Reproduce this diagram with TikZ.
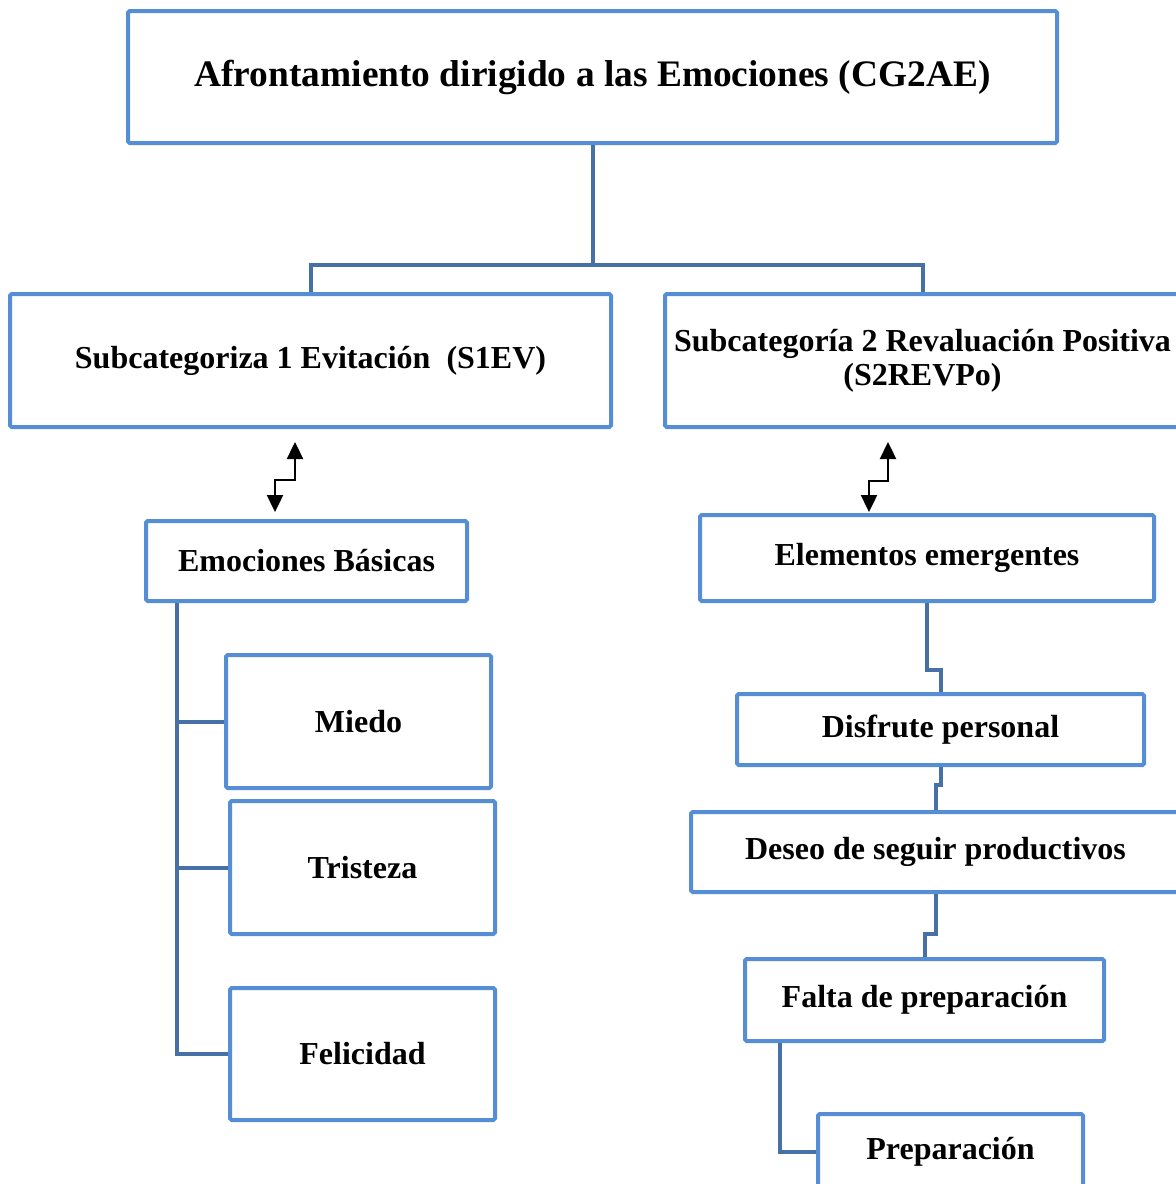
\documentclass[tikz,border=0pt]{standalone}
\usepackage{fontspec}
\setmainfont{Liberation Serif}
\usetikzlibrary{calc,arrows.meta}
\definecolor{boxblue}{RGB}{85,142,213}
\definecolor{linkblue}{RGB}{70,112,166}

\begin{document}
\begin{tikzpicture}[x=0.5pt,y=-0.5pt,font=\bfseries\fontsize{16}{17}\selectfont]

        % Setup the styles for the boxes and the links
        \tikzset{box style/.style={rectangle,
                                   draw=boxblue,
                                   line width=2pt,
                                   rounded corners=0.8pt,
                                   inner sep=0pt,
                                   align=center},
                 link style/.style={draw=linkblue,
                                    line width=2pt},
                 arrow style/.style={draw=black,
                                     line width=1.2pt,
                                     {Triangle[length=8.5pt,width=8pt]}-{Triangle[length=8.5pt,width=8pt]}}}

        \useasboundingbox (0,0) rectangle (1176,1184);

        % Draw the boxes
        \node[box style, minimum width=464.5pt, minimum height=66pt,
              font=\bfseries\fontsize{18.7}{20}\selectfont] at (592.5, 77) (tit) {Afrontamiento dirigido a las Emociones (CG2AE)};
        \node[box style, minimum width=300.5pt, minimum height=66.5pt] at (310.5, 360.5) (s1) {Subcategoriza 1 Evitación\ \ (S1EV)};
        \node[box style, minimum width=257.5pt, minimum height=66.5pt] at (922.5, 360.5) (s2) {Subcategoría 2 Revaluación Positiva\\(S2REVPo)};
        \node[box style, minimum width=160.5pt, minimum height=40pt]   at (306.5, 561)   (emo) {Emociones Básicas};
        \node[box style, minimum width=132.5pt, minimum height=66.5pt] at (358.5, 721.5) (mie) {Miedo};
        \node[box style, minimum width=132.5pt, minimum height=66.5pt] at (362.5, 867.5) (tri) {Tristeza};
        \node[box style, minimum width=132.5pt, minimum height=66pt]   at (362.5, 1054)  (fel) {Felicidad};
        \node[box style, minimum width=227pt,   minimum height=43pt]   at (927, 558)     (eme) {Elementos emergentes};
        \node[box style, minimum width=203.5pt, minimum height=35.5pt] at (940.5, 729.5) (dis) {Disfrute personal};
        \node[box style, minimum width=244.5pt, minimum height=40pt]   at (935.5, 852)   (des) {Deseo de seguir productivos};
        \node[box style, minimum width=179.5pt, minimum height=41pt]   at (924.5, 1000)  (fal) {Falta de preparación};
        \node[box style, minimum width=132.5pt, minimum height=38pt]   at (950.5, 1152)  (pre) {Preparación};

        % Connect the title with the subcategories
        \coordinate (jt) at (592.5, 265);
        \draw[link style] (tit.south) -- (tit.south |- jt);
        \draw[link style] (s1.north) |- (jt) -| (s2.north);

        % Double arrows below the subcategories
        \draw[arrow style] ($(s1.south)+(-15.5,13)$) -- ++(0,38) -| ($(emo.north)+(-31.5,-7)$);
        \draw[arrow style] ($(s2.south)+(-34.5,13)$) -- ++(0,39) -| ($(eme.north)+(-58,-1)$);

        % Left branch
        \coordinate (br) at ($(emo.south west)+(33,0)$);
        \draw[link style] (br) |- (fel.west);
        \draw[link style] (br |- mie.west) -- (mie.west);
        \draw[link style] (br |- tri.west) -- (tri.west);

        % Right chain
        \draw[link style] (eme.south) -- ++(0,67) -| (dis.north);
        \draw[link style] (dis.south) -- ++(0,18) -| (des.north);
        \draw[link style] (des.south) -- ++(0,40) -| (fal.north);
        \draw[link style] ($(fal.south west)+(37,0)$) |- (pre.west);
    \end{tikzpicture}
\end{document}
